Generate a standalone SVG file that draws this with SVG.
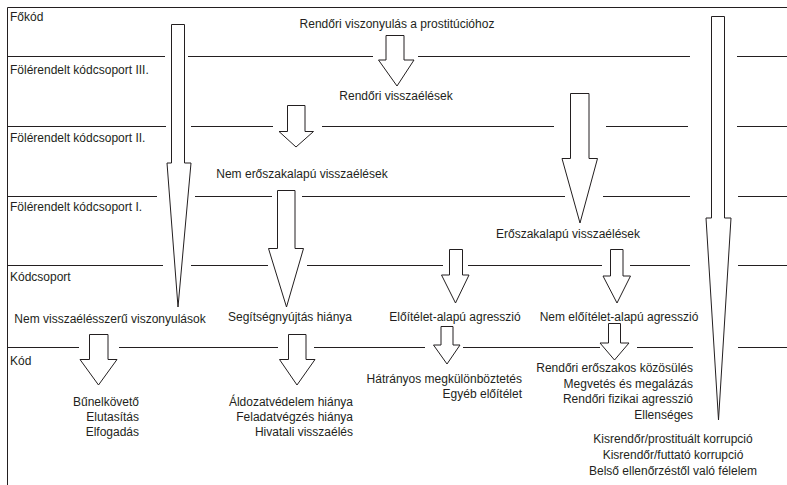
<svg xmlns="http://www.w3.org/2000/svg" width="787" height="485" viewBox="0 0 787 485">
<style>
text{font-family:"Liberation Sans",Arial,sans-serif;font-size:12px;fill:#231f20}
.c{text-anchor:middle}
.r{text-anchor:end}
.ln{stroke:#231f20;stroke-width:1;fill:none}
.ar{stroke:#231f20;stroke-width:1;fill:#fff;stroke-linejoin:miter}
</style>
<rect width="787" height="485" fill="#fff"/>
<g id="frame" class="ln">
<path d="M7.5,485 V7.5 H787"/>
</g>
<g id="gridlines" class="ln">
<path d="M7,56.5 H165 M188,56.5 H373 M418,56.5 H690 M737,56.5 H787"/>
<path d="M7,126.5 H166 M191,126.5 H273 M322,126.5 H554 M606,126.5 H688 M737,126.5 H787"/>
<path d="M7,196.5 H157 M195,196.5 H272 M302,196.5 H565 M603,196.5 H690 M738,196.5 H787"/>
<path d="M7,265.5 H163 M191,265.5 H268 M307,265.5 H443 M468,265.5 H602 M630,265.5 H690 M738,265.5 H787"/>
<path d="M7,347.5 H79 M119,347.5 H278 M314,347.5 H425 M463,347.5 H600 M637,347.5 H693 M738,347.5 H787"/>
</g>
<g id="levels">
<text x="10" y="21">Főkód</text>
<text x="10" y="74">Fölérendelt kódcsoport III.</text>
<text x="10" y="142">Fölérendelt kódcsoport II.</text>
<text x="10" y="211">Fölérendelt kódcsoport I.</text>
<text x="10" y="281">Kódcsoport</text>
<text x="10" y="365">Kód</text>
</g>
<g id="connectors">
<path class="ar" d="M171.5,24.5 H184.5 V163 H191 L178,307 L167,163 H171.5 Z"/>
<path class="ar" d="M711.5,16.5 H724.5 V218 H731 L718.5,420 L706,218 H711.5 Z"/>
<path class="ar" d="M386,35.5 H404 V60 H414 L397,86 L378.5,60 H386 Z"/>
<path class="ar" d="M287.5,105.5 H305 V131.5 H313.5 L296,147 L279,131.5 H287.5 Z"/>
<path class="ar" d="M570.5,93.5 H589 V158.5 H597.5 L580,223 L562,158.5 H570.5 Z"/>
<path class="ar" d="M277.5,190.5 H295 V248.5 H303.5 L286.5,307 L268.5,248.5 H277.5 Z"/>
<path class="ar" d="M449.5,249.5 H462.5 V275 H469 L455.5,303 L441.5,275 H449.5 Z"/>
<path class="ar" d="M610.5,249.5 H623 V276 H630.5 L617,303 L603,276 H610.5 Z"/>
<path class="ar" d="M89.5,334.5 H108 V359.5 H117 L98.5,385 L80,359.5 H89.5 Z"/>
<path class="ar" d="M288.5,334.5 H306 V359.5 H315 L297,385 L279.5,359.5 H288.5 Z"/>
<path class="ar" d="M441,326.5 H453 V345 H460 L447,364 L433.5,345 H441 Z"/>
<path class="ar" d="M608.5,323.5 H620.5 V343 H629 L614.5,360 L600,343 H608.5 Z"/>
</g>
<g id="n-fokod"><text class="c" x="397" y="28">Rendőri viszonyulás a prostitúcióhoz</text></g>
<g id="n-rendori-visszaelesek"><text class="c" x="396" y="100">Rendőri visszaélések</text></g>
<g id="n-nem-eroszak"><text class="c" x="302" y="178">Nem erőszakalapú visszaélések</text></g>
<g id="n-eroszak"><text class="c" x="568" y="238">Erőszakalapú visszaélések</text></g>
<g id="n-nem-visszaeles"><text class="c" x="110" y="323">Nem visszaélésszerű viszonyulások</text></g>
<g id="n-segitseg"><text class="c" x="290" y="321">Segítségnyújtás hiánya</text></g>
<g id="n-eloitelet"><text class="c" x="455" y="321">Előítélet-alapú agresszió</text></g>
<g id="n-nem-eloitelet"><text class="c" x="619" y="321">Nem előítélet-alapú agresszió</text></g>
<g id="k-nem-visszaeles">
<text class="r" x="139" y="406">Bűnelkövető</text>
<text class="r" x="139" y="421">Elutasítás</text>
<text class="r" x="139" y="436">Elfogadás</text>
</g>
<g id="k-segitseg">
<text class="r" x="353" y="406">Áldozatvédelem hiánya</text>
<text class="r" x="353" y="421">Feladatvégzés hiánya</text>
<text class="r" x="353" y="436">Hivatali visszaélés</text>
</g>
<g id="k-eloitelet">
<text class="r" x="522" y="383">Hátrányos megkülönböztetés</text>
<text class="r" x="522" y="398">Egyéb előítélet</text>
</g>
<g id="k-nem-eloitelet">
<text class="r" x="693" y="372">Rendőri erőszakos közösülés</text>
<text class="r" x="693" y="387.5">Megvetés és megalázás</text>
<text class="r" x="693" y="403">Rendőri fizikai agresszió</text>
<text class="r" x="693" y="418.5">Ellenséges</text>
</g>
<g id="k-fokod">
<text class="c" x="673" y="443">Kisrendőr/prostituált korrupció</text>
<text class="c" x="673" y="459">Kisrendőr/futtató korrupció</text>
<text class="c" x="673" y="475">Belső ellenőrzéstől való félelem</text>
</g>
</svg>
